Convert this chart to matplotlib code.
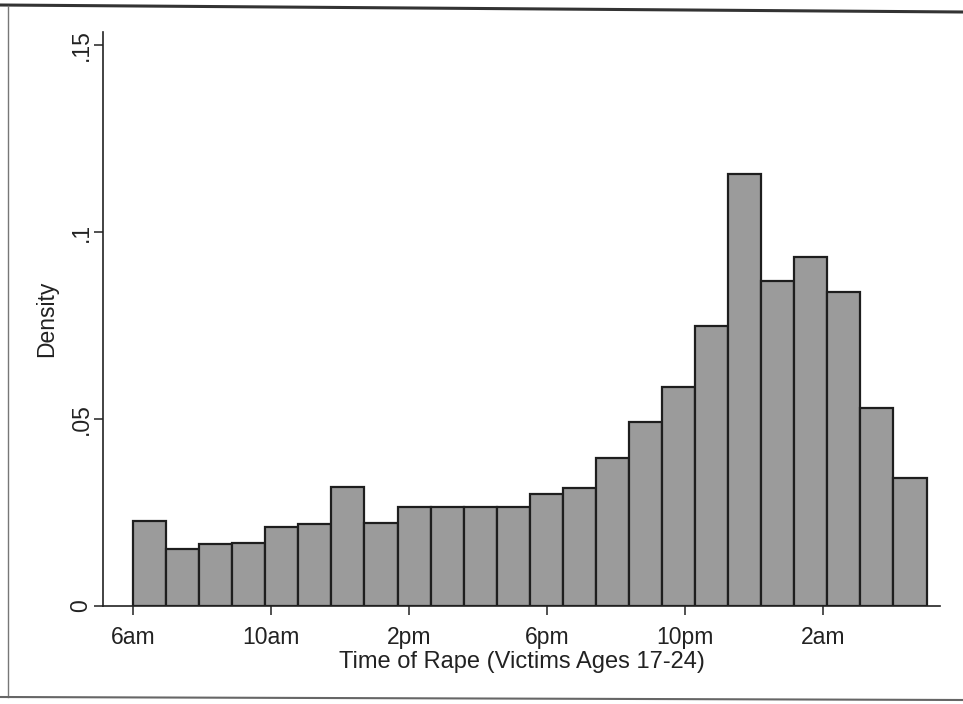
import numpy as np
import matplotlib
matplotlib.use("Agg")
import matplotlib.pyplot as plt
from matplotlib.lines import Line2D

plt.rcParams['font.family'] = ['Liberation Sans', 'DejaVu Sans']

# density per bin (24 bins spanning 6am .. 5am next day, hours 6..29)
density = [0.0228, 0.0152, 0.0165, 0.0168, 0.0212, 0.0219, 0.0319, 0.0223,
           0.0265, 0.0265, 0.0265, 0.0265, 0.0300, 0.0316, 0.0396, 0.0493,
           0.0585, 0.0750, 0.1155, 0.0870, 0.0932, 0.0840, 0.0530, 0.0343]
hour_min, hour_max = 6, 29
tick_hours = [6, 10, 14, 18, 22, 26]
tick_labels = ['6am', '10am', '2pm', '6pm', '10pm', '2am']
y_ticks = [0, 0.05, 0.1, 0.15]
y_labels = ['0', '.05', '.1', '.15']

edges = np.linspace(hour_min, hour_max, len(density) + 1)
width = edges[1] - edges[0]

fig = plt.figure(figsize=(9.63, 7.04), dpi=100)
ax = fig.add_axes([103/963, 1 - 606/704, (940 - 103)/963, (606 - 32)/704])

ax.bar(edges[:-1], density, width=width, align='edge',
       color='#9b9b9b', edgecolor='#1e1e1e', linewidth=1.6)

ax.set_xlim(5.13, 29.39)
ax.set_ylim(0, 0.1535)

ax.set_xticks(tick_hours)
ax.set_xticklabels(tick_labels)
ax.set_yticks(y_ticks)
ax.set_yticklabels(y_labels, rotation=90, va='center')

ax.tick_params(axis='both', direction='out', length=6.5, width=1.1,
               colors='#222222', labelsize=16.5)
ax.tick_params(axis='x', pad=8)
ax.tick_params(axis='y', pad=1)

for s in ['top', 'right']:
    ax.spines[s].set_visible(False)
for s in ['left', 'bottom']:
    ax.spines[s].set_linewidth(1.2)
    ax.spines[s].set_color('#222222')

ax.set_xlabel('Time of Rape (Victims Ages 17-24)', fontsize=17, color='#222222', labelpad=1)
ax.set_ylabel('Density', fontsize=16.5, color='#222222', labelpad=8)

# scanned page border
fig.add_artist(Line2D([0, 1], [1 - 5/704, 1 - 12/704], color='#333333', linewidth=2.2))
fig.add_artist(Line2D([8/963, 8/963], [1 - 6/704, 1 - 697/704], color='#777777', linewidth=1.0))
fig.add_artist(Line2D([0, 1], [1 - 697/704, 1 - 700/704], color='#666666', linewidth=1.5))

fig.savefig('out.png', dpi=100)
